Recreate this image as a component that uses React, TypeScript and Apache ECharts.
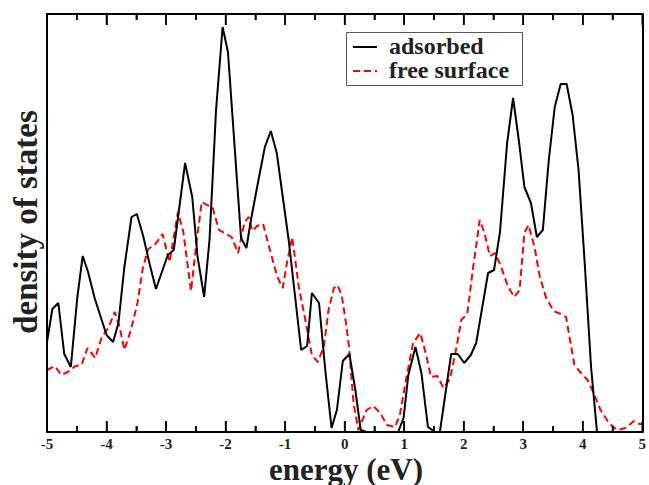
import React, { useEffect, useRef } from "react";
import * as echarts from "echarts";

// energy (eV) and density of states (arb. units)
const adsorbedEnergy = [
  -5.0, -4.91, -4.81, -4.71, -4.6, -4.49, -4.4, -4.31, -4.2, -4.0, -3.89, -3.8, -3.7, -3.58, -3.49,
  -3.38, -3.28, -3.17, -2.97, -2.87, -2.68, -2.56, -2.47, -2.36, -2.27, -2.16, -2.05, -1.96, -1.74,
  -1.65, -1.58, -1.47, -1.34, -1.24, -1.14, -0.94, -0.73, -0.63, -0.55, -0.43, -0.32, -0.22, -0.13,
  -0.03, 0.08, 0.18, 0.27, 0.37, 0.9, 0.99, 1.07, 1.19, 1.29, 1.4, 1.52, 1.6, 1.79, 1.9, 2.01, 2.12,
  2.21, 2.41, 2.51, 2.61, 2.73, 2.83, 2.93, 3.02, 3.13, 3.23, 3.33, 3.43, 3.53, 3.63, 3.73, 3.83,
  3.93, 4.03, 4.14, 4.24, 5.0,
];
const adsorbedDos = [
  0.9, 1.23, 1.29, 0.78, 0.65, 1.35, 1.76, 1.6, 1.34, 0.97, 0.9, 1.09, 1.65, 2.15, 2.18,
  1.95, 1.69, 1.43, 1.77, 1.82, 2.69, 2.35, 1.75, 1.35, 1.92, 3.22, 4.05, 3.8, 1.94,
  1.84, 2.1, 2.45, 2.85, 3.01, 2.79, 1.92, 0.82, 0.86, 1.39, 1.29, 0.59, 0.04, 0.22,
  0.71, 0.78, 0.42, 0.02, 0.0, 0.0, 0.14, 0.57, 0.85, 0.59, 0.05, 0.0, 0.0, 0.78, 0.78, 0.69, 0.77,
  0.89, 1.59, 1.62, 2.0, 2.89, 3.34, 2.9, 2.45, 2.29, 1.95, 2.02, 2.72, 3.25, 3.48, 3.48, 3.17,
  2.62, 1.72, 0.65, 0.0, 0.0,
];

const freeEnergy = [
  -5.0, -4.87, -4.76, -4.65, -4.52, -4.42, -4.32, -4.19, -4.08, -3.97, -3.86, -3.78, -3.7, -3.59,
  -3.48, -3.39, -3.3, -3.19, -3.06, -2.94, -2.8, -2.71, -2.58, -2.49, -2.4, -2.31, -2.22, -2.11,
  -1.99, -1.9, -1.79, -1.68, -1.61, -1.55, -1.47, -1.37, -1.25, -1.13, -1.04, -0.96, -0.88, -0.77,
  -0.66, -0.55, -0.45, -0.35, -0.27, -0.18, -0.12, -0.05, 0.02, 0.07, 0.15, 0.23, 0.37, 0.48, 0.6,
  0.71, 0.85, 0.93, 1.04, 1.15, 1.27, 1.37, 1.45, 1.56, 1.66, 1.77, 1.88, 1.96, 2.06, 2.16, 2.27,
  2.35, 2.44, 2.53, 2.63, 2.74, 2.85, 2.94, 3.02, 3.09, 3.19, 3.28, 3.38, 3.51, 3.63, 3.72, 3.86,
  3.97, 4.08, 4.16, 4.3, 4.44, 4.58, 4.72, 4.86, 4.95, 5.0,
];
const freeDos = [
  0.62, 0.66, 0.57, 0.6, 0.66, 0.67, 0.84, 0.74, 0.95, 1.04, 1.2, 1.05, 0.82, 1.02,
  1.29, 1.64, 1.83, 1.87, 1.98, 1.7, 2.2, 2.0, 1.41, 1.89, 2.3, 2.27, 2.25, 2.02,
  1.98, 1.95, 1.79, 2.1, 2.15, 2.01, 2.06, 2.08, 1.81, 1.55, 1.44, 1.72, 1.95, 1.45,
  1.12, 0.77, 0.7, 0.85, 1.22, 1.44, 1.47, 1.37, 1.1, 0.87, 0.29, 0.02, 0.22, 0.26, 0.19,
  0.07, 0.05, 0.18, 0.55, 0.89, 0.99, 0.77, 0.55, 0.56, 0.44, 0.53, 0.85, 1.12, 1.18, 1.65, 2.12,
  1.99, 1.76, 1.79, 1.65, 1.46, 1.35, 1.42, 1.99, 2.07, 1.85, 1.55, 1.35, 1.21, 1.18, 1.15, 0.67,
  0.59, 0.52, 0.42, 0.22, 0.09, 0.02, 0.04, 0.11, 0.08, 0.08,
];

// tick positions (eV): integers are major ticks, half-integers minor ticks
const tickValues = [
  -5, -4.5, -4, -3.5, -3, -2.5, -2, -1.5, -1, -0.5, 0, 0.5, 1, 1.5, 2, 2.5, 3, 3.5, 4, 4.5, 5,
];

const seriesNames = ["adsorbed", "free surface"];
const xTitle = "energy (eV)";
const yTitle = "density of states";

const Y_MAX = 4.18;
const FONT = '"Liberation Serif", "Times New Roman", Times, serif';

export default function App() {
  const ref = useRef<HTMLDivElement>(null);
  useEffect(() => {
    if (!ref.current) return;
    const chart = echarts.init(ref.current, null, { renderer: "svg" });
    const frameLine = { show: true, onZero: false, lineStyle: { color: "#000", width: 2 } };
    const insideTicks = {
      axisTick: { show: true, inside: true, length: 11, lineStyle: { color: "#000", width: 1.5 } },
      minorTick: { show: true, splitNumber: 2, length: 6, lineStyle: { color: "#000", width: 1.5 } },
      splitLine: { show: false },
      minorSplitLine: { show: false },
    };
    const noTicks = { axisTick: { show: false }, minorTick: { show: false }, splitLine: { show: false } };
    chart.setOption({
      animation: false,
      backgroundColor: "#fff",
      grid: { left: 47, right: 4, top: 14, bottom: 53, show: false },
      xAxis: [
        {
          type: "value",
          min: -5,
          max: 5,
          interval: 1,
          position: "bottom",
          z: 6,
          axisLine: frameLine,
          ...insideTicks,
          axisLabel: {
            show: true,
            fontFamily: FONT,
            fontWeight: "bold",
            fontSize: 15,
            color: "#222",
            margin: 4,
          },
        },
        {
          type: "value",
          min: -5,
          max: 5,
          interval: 1,
          position: "top",
          z: 6,
          axisLine: frameLine,
          ...insideTicks,
          axisLabel: { show: false },
        },
      ],
      yAxis: [
        {
          type: "value",
          min: 0,
          max: Y_MAX,
          position: "left",
          z: 6,
          axisLine: frameLine,
          ...noTicks,
          axisLabel: { show: false },
        },
        {
          type: "value",
          min: 0,
          max: Y_MAX,
          position: "right",
          z: 6,
          axisLine: frameLine,
          ...noTicks,
          axisLabel: { show: false },
        },
      ],
      series: [
        {
          name: "ticks",
          type: "custom",
          xAxisIndex: 0,
          yAxisIndex: 0,
          silent: true,
          clip: false,
          z: 7,
          data: tickValues.map((v) => [v, 0]),
          encode: { x: 0, y: 1 },
          renderItem: (_params: any, api: any) => {
            const v = api.value(0);
            const len = Math.abs(v - Math.round(v)) < 1e-6 ? 11 : 6;
            const bot = api.coord([v, 0]);
            const top = api.coord([v, Y_MAX]);
            const style = { stroke: "#000", lineWidth: 1.5, fill: null };
            return {
              type: "group",
              children: [
                { type: "line", shape: { x1: bot[0], y1: bot[1], x2: bot[0], y2: bot[1] - len }, style },
                { type: "line", shape: { x1: top[0], y1: top[1], x2: top[0], y2: top[1] + len }, style },
              ],
            };
          },
        },
        {
          name: seriesNames[0],
          type: "line",
          data: adsorbedEnergy.map((e, i) => [e, adsorbedDos[i]]),
          showSymbol: false,
          symbol: "none",
          lineStyle: { color: "#000", width: 2 },
          z: 3,
        },
        {
          name: seriesNames[1],
          type: "line",
          data: freeEnergy.map((e, i) => [e, freeDos[i]]),
          showSymbol: false,
          symbol: "none",
          lineStyle: { color: "#ff0000", width: 2, type: [7, 4] },
          z: 2,
        },
      ],
      graphic: [
        {
          type: "text",
          x: 346,
          y: 469,
          style: {
            text: xTitle,
            font: `bold 31px ${FONT}`,
            fill: "#222",
            textAlign: "center",
            textVerticalAlign: "middle",
          },
        },
        {
          type: "text",
          x: 25.5,
          y: 222,
          rotation: Math.PI / 2,
          style: {
            text: yTitle,
            font: `bold 33px ${FONT}`,
            fill: "#222",
            textAlign: "center",
            textVerticalAlign: "middle",
          },
        },
        {
          type: "rect",
          shape: { x: 346.5, y: 32.5, width: 176, height: 53 },
          style: { fill: "#fff", stroke: "#555", lineWidth: 1 },
          z: 10,
        },
        {
          type: "line",
          shape: { x1: 353, y1: 47, x2: 377, y2: 47 },
          style: { stroke: "#000", lineWidth: 2 },
          z: 11,
        },
        {
          type: "line",
          shape: { x1: 353, y1: 71, x2: 377, y2: 71 },
          style: { stroke: "#ff0000", lineWidth: 2, lineDash: [7, 4] },
          z: 11,
        },
        {
          type: "text",
          x: 389,
          y: 46.3,
          z: 11,
          style: {
            text: seriesNames[0],
            font: `bold 24px ${FONT}`,
            fill: "#222",
            textAlign: "left",
            textVerticalAlign: "middle",
          },
        },
        {
          type: "text",
          x: 389,
          y: 70.3,
          z: 11,
          style: {
            text: seriesNames[1],
            font: `bold 24px ${FONT}`,
            fill: "#222",
            textAlign: "left",
            textVerticalAlign: "middle",
          },
        },
      ],
    });
    return () => chart.dispose();
  }, []);
  return (
    <div
      ref={ref}
      style={{ position: "fixed", left: 0, top: 0, width: 649, height: 485, background: "#fff" }}
    />
  );
}
